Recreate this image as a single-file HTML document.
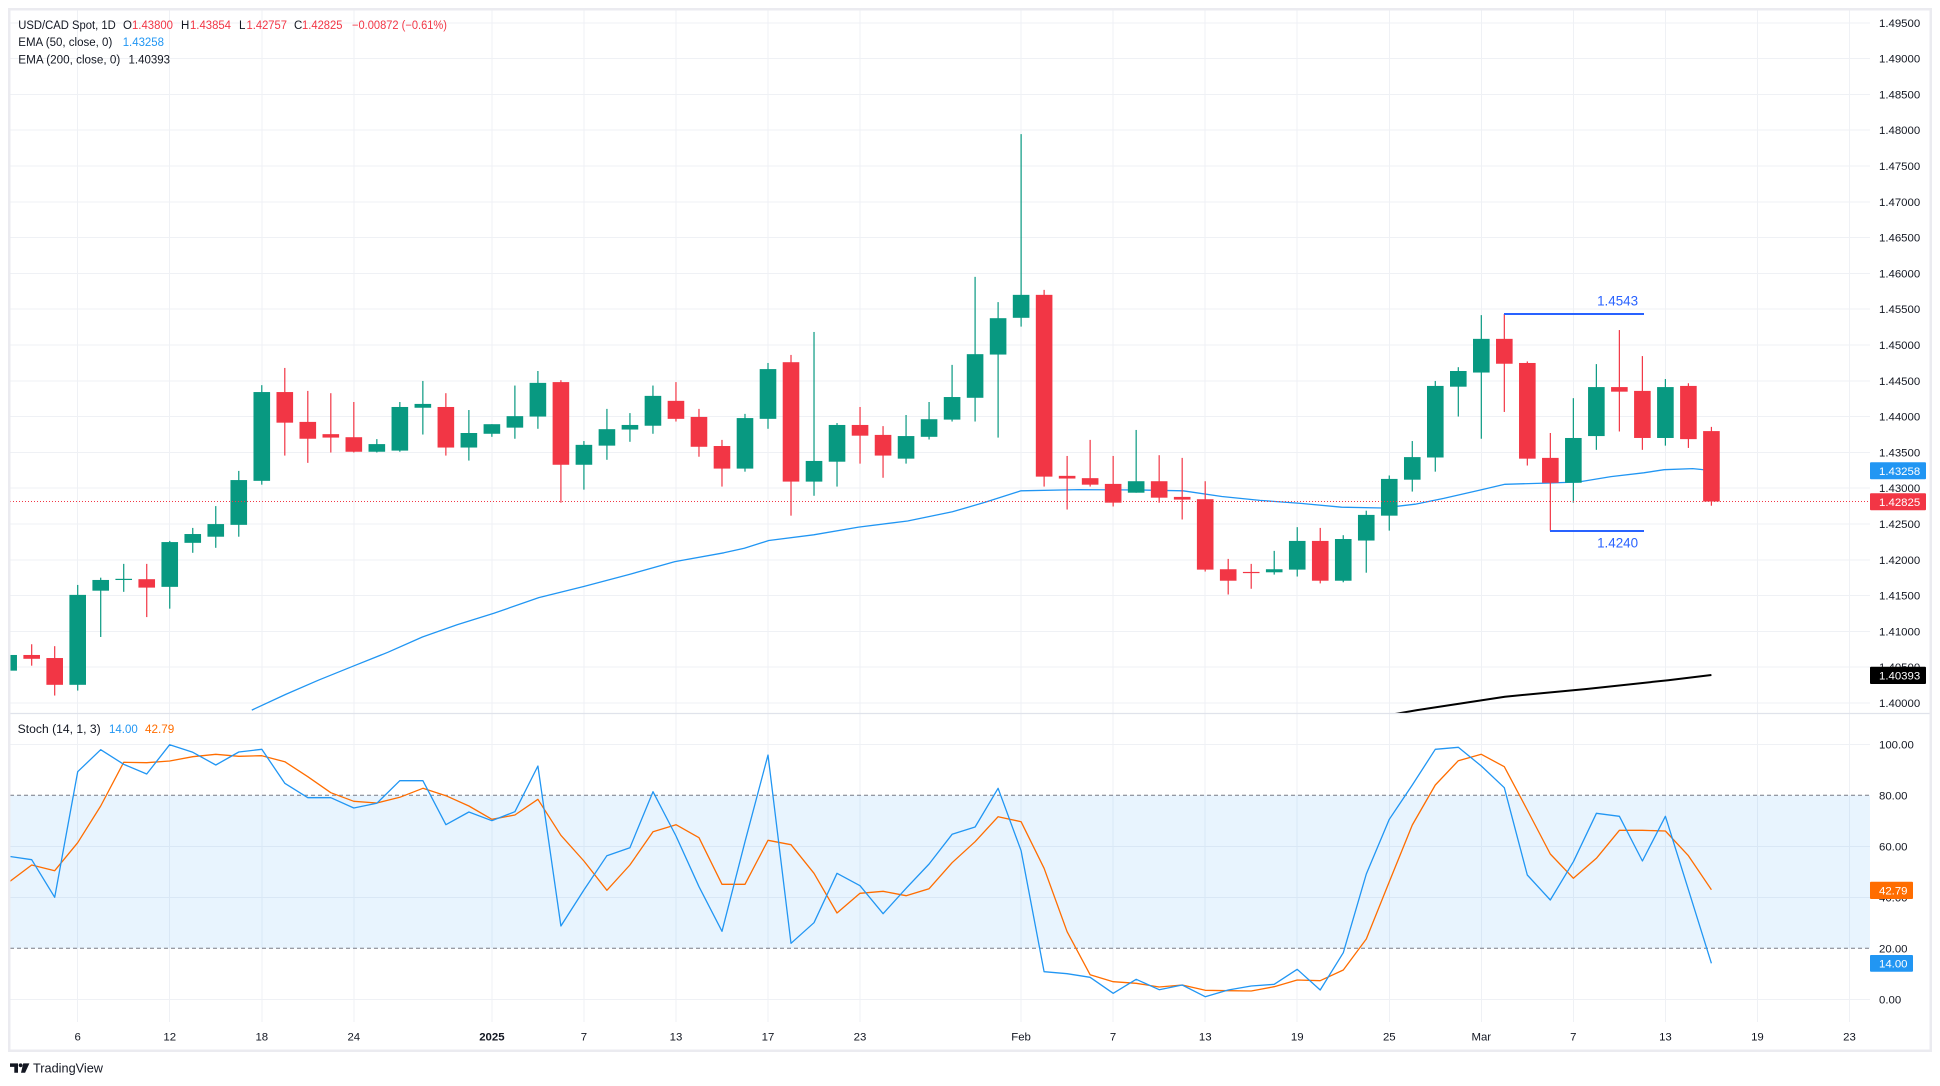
<!DOCTYPE html>
<html><head><meta charset="utf-8">
<style>
html,body{margin:0;padding:0;background:#fff;width:1940px;height:1086px;overflow:hidden;}
svg{display:block;font-family:"Liberation Sans",Arial,sans-serif;}
.ax{font-size:11.4px;fill:#131722;}
.lg{font-size:11.5px;fill:#131722;}
</style></head>
<body>
<svg id="c" width="1940" height="1086" viewBox="0 0 1940 1086" xmlns="http://www.w3.org/2000/svg">
<defs>
<clipPath id="cp1"><rect x="10" y="10" width="1860" height="703"/></clipPath>
<clipPath id="cp2"><rect x="10" y="714" width="1860" height="308"/></clipPath>
</defs>
<rect width="1940" height="1086" fill="#fff"/>
<g id="grid" stroke="#eff1f5" stroke-width="1" shape-rendering="crispEdges"></g>
<rect x="10" y="795.3" width="1860" height="153" fill="#2196f3" fill-opacity="0.1"/>
<line x1="10" y1="795.3" x2="1870" y2="795.3" stroke="#787b86" stroke-width="1" stroke-dasharray="4 3"/>
<line x1="10" y1="948.3" x2="1870" y2="948.3" stroke="#787b86" stroke-width="1" stroke-dasharray="4 3"/>
<g id="main" clip-path="url(#cp1)"></g>
<g id="stoch" clip-path="url(#cp2)"></g>
<line x1="10" y1="501.5" x2="1870" y2="501.5" stroke="#f23645" stroke-width="1" stroke-dasharray="1 2"/>
<!-- annotations -->
<line x1="1504" y1="314" x2="1644" y2="314" stroke="#2962ff" stroke-width="2"/>
<line x1="1550" y1="531" x2="1644" y2="531" stroke="#2962ff" stroke-width="2"/>
<text x="1617.6" y="305.4" text-anchor="middle" font-size="13.4" fill="#2962ff">1.4543</text>
<text x="1617.6" y="547.3" text-anchor="middle" font-size="13.4" fill="#2962ff">1.4240</text>
<!-- separator & frame -->
<line x1="10" y1="713.5" x2="1930" y2="713.5" stroke="#e0e3eb" stroke-width="1.2"/>
<rect x="9.25" y="9.25" width="1921.5" height="1041.5" fill="none" stroke="#ebebf0" stroke-width="2.5"/>
<!-- price axis labels -->
<g class="ax">
<text x="1879" y="26.8">1.49500</text>
<text x="1879" y="62.6">1.49000</text>
<text x="1879" y="98.4">1.48500</text>
<text x="1879" y="134.2">1.48000</text>
<text x="1879" y="170.0">1.47500</text>
<text x="1879" y="205.8">1.47000</text>
<text x="1879" y="241.6">1.46500</text>
<text x="1879" y="277.4">1.46000</text>
<text x="1879" y="313.2">1.45500</text>
<text x="1879" y="349.0">1.45000</text>
<text x="1879" y="384.8">1.44500</text>
<text x="1879" y="420.6">1.44000</text>
<text x="1879" y="456.4">1.43500</text>
<text x="1879" y="492.2">1.43000</text>
<text x="1879" y="528.0">1.42500</text>
<text x="1879" y="563.8">1.42000</text>
<text x="1879" y="599.6">1.41500</text>
<text x="1879" y="635.4">1.41000</text>
<text x="1879" y="671.2">1.40500</text>
<text x="1879" y="707.0">1.40000</text>
<text x="1879" y="748.3">100.00</text>
<text x="1879" y="799.3">80.00</text>
<text x="1879" y="850.3">60.00</text>
<text x="1879" y="901.3">40.00</text>
<text x="1879" y="952.3">20.00</text>
<text x="1879" y="1003.3">0.00</text>
</g>
<rect x="1870" y="462.3" width="56" height="17" rx="1" fill="#2196f3"/>
<text x="1879" y="474.9" class="ax" style="fill:#fff">1.43258</text>
<rect x="1870" y="493.2" width="56" height="17" rx="1" fill="#f23645"/>
<text x="1879" y="505.8" class="ax" style="fill:#fff">1.42825</text>
<rect x="1870" y="666.8" width="56" height="17.2" rx="1" fill="#000"/>
<text x="1879" y="679.5" class="ax" style="fill:#fff">1.40393</text>
<rect x="1870" y="881.7" width="43" height="17.3" rx="1" fill="#ff6d00"/>
<text x="1879" y="894.5" class="ax" style="fill:#fff">42.79</text>
<rect x="1870" y="955" width="43" height="16.7" rx="1" fill="#2196f3"/>
<text x="1879" y="967.6" class="ax" style="fill:#fff">14.00</text>
<!-- time axis -->
<g class="ax" text-anchor="middle">
<text x="77.7" y="1040.7">6</text>
<text x="169.7" y="1040.7">12</text>
<text x="261.8" y="1040.7">18</text>
<text x="353.8" y="1040.7">24</text>
<text x="491.9" y="1040.7" font-weight="bold">2025</text>
<text x="583.9" y="1040.7">7</text>
<text x="676.0" y="1040.7">13</text>
<text x="768.0" y="1040.7">17</text>
<text x="860.0" y="1040.7">23</text>
<text x="1021.1" y="1040.7">Feb</text>
<text x="1113.1" y="1040.7">7</text>
<text x="1205.2" y="1040.7">13</text>
<text x="1297.2" y="1040.7">19</text>
<text x="1389.3" y="1040.7">25</text>
<text x="1481.3" y="1040.7">Mar</text>
<text x="1573.3" y="1040.7">7</text>
<text x="1665.4" y="1040.7">13</text>
<text x="1757.4" y="1040.7">19</text>
<text x="1849.5" y="1040.7">23</text>
</g>
<!-- legend -->
<g class="lg">
<text x="18.3" y="29.1" textLength="97.4" lengthAdjust="spacingAndGlyphs">USD/CAD Spot, 1D</text>
<text x="123" y="29.1">O</text><text x="132" y="29.1" fill="#f23645" textLength="41" lengthAdjust="spacingAndGlyphs">1.43800</text>
<text x="181" y="29.1">H</text><text x="190" y="29.1" fill="#f23645" textLength="41" lengthAdjust="spacingAndGlyphs">1.43854</text>
<text x="239" y="29.1">L</text><text x="246.5" y="29.1" fill="#f23645" textLength="40.5" lengthAdjust="spacingAndGlyphs">1.42757</text>
<text x="294" y="29.1">C</text><text x="302" y="29.1" fill="#f23645" textLength="40.5" lengthAdjust="spacingAndGlyphs">1.42825</text>
<text x="352" y="29.1" fill="#f23645" textLength="95" lengthAdjust="spacingAndGlyphs">−0.00872 (−0.61%)</text>
<text x="18.3" y="45.8" textLength="94" lengthAdjust="spacingAndGlyphs">EMA (50, close, 0)</text>
<text x="122.7" y="45.8" fill="#2196f3" textLength="41.3" lengthAdjust="spacingAndGlyphs">1.43258</text>
<text x="18.3" y="63.4" textLength="102" lengthAdjust="spacingAndGlyphs">EMA (200, close, 0)</text>
<text x="128.5" y="63.4" textLength="41.5" lengthAdjust="spacingAndGlyphs">1.40393</text>
<text x="17.7" y="733.2" textLength="83" lengthAdjust="spacingAndGlyphs">Stoch (14, 1, 3)</text>
<text x="109" y="733.2" fill="#2196f3" textLength="28.7" lengthAdjust="spacingAndGlyphs">14.00</text>
<text x="145" y="733.2" fill="#ff6d00" textLength="29.3" lengthAdjust="spacingAndGlyphs">42.79</text>
</g>
<!-- TradingView logo -->
<g fill="#131722">
<path d="M10 1063.4h8v9.4h-3.7v-5.9h-4.3z"/>
<circle cx="20.6" cy="1065.3" r="1.9"/>
<path d="M23.2 1063.4h6.2l-4.3 9.4h-4.1z"/>
</g>
<text x="33" y="1072.6" font-size="12.6" fill="#131722" textLength="70" lengthAdjust="spacingAndGlyphs">TradingView</text>
<script>
(function(){
var S='http://www.w3.org/2000/svg';
function el(t,a,p){var e=document.createElementNS(S,t);for(var k in a)e.setAttribute(k,a[k]);p.appendChild(e);return e;}
function X(i){return 77.7+23.01*i;}
function ZY(z){return 110+z/2.613;}
function SY(z){return 730+z/3;}
var grid=document.getElementById('grid');
for(var k=0;k<=19;k++){var y=416.6-(1.400+k*0.005-1.44)*7160;el('line',{x1:10,y1:y.toFixed(1),x2:1870,y2:y.toFixed(1)},grid);}
[744.3,846.3,897.3,999.3].forEach(function(y){el('line',{x1:10,y1:y,x2:1870,y2:y},grid);});
[0,4,8,12,18,22,26,30,34,41,45,49,53,57,61,65,69,73,77].forEach(function(i){var x=X(i).toFixed(1);el('line',{x1:x,y1:10,x2:x,y2:1022},grid);});
var main=document.getElementById('main');
var ema50=[[251.8,710.1],[285.7,694.4],[318.4,680.2],[354.3,665.7],[387.8,652.3],[422.4,637.0],[457.1,624.7],[493.9,613.3],[538.8,597.6],[583.7,586.5],[630,574.2],[674.9,561.6],[723.9,552.8],[744.3,548.2],[768.8,540.5],[813.7,534.8],[858.6,527.1],[907.6,521.0],[952.4,511.8],[985.1,502.3],[1021.0,490.8],[1079.0,489.6],[1140.2,490.0],[1183.1,490.8],[1221.8,496.5],[1260,500.4],[1300.8,503.4],[1341.6,507.2],[1382.4,508.0],[1415.1,504.2],[1443.7,498.4],[1480.4,490.0],[1504.9,484.3],[1545.7,483.1],[1578.4,482.0],[1611.0,476.6],[1643.7,472.8],[1664.1,469.7],[1692.7,468.6],[1711.4,470.5]];
el('polyline',{points:ema50.map(function(p){return p.join(',');}).join(' '),fill:'none',stroke:'#2196f3','stroke-width':1.3,'stroke-linejoin':'round'},main);
var ema200=[[1395,714],[1417.1,710.1],[1504.9,696.7],[1586.5,689.0],[1668.2,680.2],[1711.4,675.0]];
el('polyline',{points:ema200.map(function(p){return p.join(',');}).join(' '),fill:'none',stroke:'#000','stroke-width':2,'stroke-linejoin':'round'},main);
var C=[[-3,'g',1465,1424,1465,1424],[-2,'r',1424,1396,1452,1434],[-1,'r',1432,1401,1530,1502],[0,'g',1502,1241,1517,1267],[1,'g',1256,1222,1377,1228],[2,'g',1227,1186,1259,1225],[3,'r',1226,1186,1325,1248],[4,'g',1246,1126,1303,1129],[5,'g',1131,1092,1157,1108],[6,'g',1115,1035,1144,1082],[7,'g',1084,943,1115,967],[8,'g',969,719,979,737],[9,'r',737,674,903,817],[10,'r',815,734,922,859],[11,'r',847,740,895,856],[12,'r',855,763,895,893],[13,'g',893,860,895,873],[14,'g',890,763,893,776],[15,'g',778,708,848,768],[16,'r',776,740,903,882],[17,'g',882,784,916,844],[18,'g',846,821,854,821],[19,'g',830,720,859,800],[20,'g',801,682,833,713],[21,'r',711,706,1026,927],[22,'g',927,865,992,875],[23,'g',877,781,914,834],[24,'g',835,792,867,823],[25,'g',825,720,846,747],[26,'r',760,711,814,807],[27,'r',802,781,906,880],[28,'r',878,862,984,937],[29,'g',937,794,945,805],[30,'g',807,661,833,677],[31,'r',659,640,1060,971],[32,'g',971,580,1008,917],[33,'g',919,818,984,823],[34,'r',823,776,924,851],[35,'r',849,826,961,903],[36,'g',911,797,924,852],[37,'g',854,763,861,808],[38,'g',809,666,814,750],[39,'g',752,436,814,638],[40,'g',639,502,856,544],[41,'g',543,63,566,483],[42,'r',483,470,984,958],[43,'r',956,904,1044,963],[44,'r',962,862,984,979],[45,'r',977,904,1036,1026],[46,'g',1000,836,1000,970],[47,'r',970,902,1026,1013],[48,'r',1011,909,1070,1018],[49,'r',1017,970,1206,1201],[50,'r',1200,1173,1266,1230],[51,'r',1207,1186,1251,1209],[52,'g',1208,1152,1214,1200],[53,'g',1201,1090,1219,1126],[54,'r',1126,1092,1237,1230],[55,'g',1230,1111,1234,1121],[56,'g',1125,1047,1209,1058],[57,'g',1060,955,1099,964],[58,'g',966,865,997,907],[59,'g',908,708,945,721],[60,'g',723,672,801,682],[61,'g',686,536,859,598],[62,'r',598,533,789,663],[63,'r',661,657,929,911],[64,'r',909,844,1099,974],[65,'g',974,753,1026,857],[66,'g',852,664,888,724],[67,'r',724,575,840,736],[68,'r',734,643,888,857],[69,'g',857,703,877,724],[70,'r',721,714,883,860],[71,'r',839,828,1034,1023]];
C.forEach(function(c){var x=X(c[0]);var col=c[1]=='g'?'#089981':'#f23645';
var h=ZY(c[3]),l=ZY(c[4]);el('rect',{x:(x-0.6).toFixed(2),y:h.toFixed(2),width:1.2,height:Math.max(l-h,1).toFixed(2),fill:col},main);
var t=ZY(Math.min(c[2],c[5])),b=ZY(Math.max(c[2],c[5]));el('rect',{x:(x-8.3).toFixed(2),y:t.toFixed(2),width:16.6,height:Math.max(b-t,1.2).toFixed(2),fill:col},main);});
var st=document.getElementById('stoch');
var K=[379,389,502,125,59,103,132,44,67,105,66,58,160,203,203,234,220,152,152,284,246,272,245,108,588,480,377,353,185,318,470,604,335,75,640,578,430,467,551,475,402,313,291,175,362,725,731,742,790,748,779,765,800,780,768,763,718,780,668,432,268,165,58,52,108,173,435,510,395,250,259,393,259,479,700];
var D=[457,405,422,338,228,97,98,93,80,73,79,77,95,140,188,214,219,202,175,197,228,268,255,208,316,393,481,405,305,284,323,463,463,331,344,430,549,490,484,497,476,398,335,260,275,415,605,734,755,760,771,765,781,782,783,770,750,752,720,627,455,285,165,92,73,110,240,372,445,385,301,301,303,377,479];
function pts(a){return a.map(function(z,j){return X(j-3).toFixed(1)+','+SY(z).toFixed(1);}).join(' ');}
el('polyline',{points:pts(D),fill:'none',stroke:'#ff6d00','stroke-width':1.3,'stroke-linejoin':'round'},st);
el('polyline',{points:pts(K),fill:'none',stroke:'#2196f3','stroke-width':1.3,'stroke-linejoin':'round'},st);
})();
</script>
</svg>
</body></html>
